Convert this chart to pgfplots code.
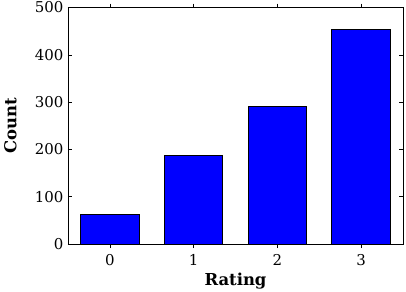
\documentclass[border=0pt]{standalone}
\usepackage{pgfplots}
\pgfplotsset{compat=1.18}
\usepackage{fontspec}
\setmainfont{DejaVu Serif}
\begin{document}
\begin{tikzpicture}
\path[use as bounding box] (-68bp,-48bp) rectangle (338bp,244bp);
\begin{axis}[
  at={(0,0)}, anchor=south west,
  scale only axis, width=335bp, height=236.5bp,
  xmin=-0.5, xmax=3.5, ymin=0, ymax=500,
  xtick={0,1,2,3}, ytick={0,100,200,300,400,500},
  tick align=inside, major tick length=4bp,
  tick style={black, line width=0.5pt},
  axis line style={black, line width=1pt},
  /pgf/number format/assume math mode=true,
  ticklabel style={font=\fontsize{15}{17}\selectfont},
  xlabel={Rating}, ylabel={Count},
  every axis x label/.style={at={(axis description cs:0.5,-0.175)}, anchor=base, font=\bfseries\fontsize{16.5}{18}\selectfont},
  every axis y label/.style={at={(axis description cs:-0.172,0.5)}, anchor=center, rotate=90, font=\bfseries\fontsize{16.5}{18}\selectfont},
  yticklabel style={xshift=-1bp},
  xticklabel style={yshift=-3bp},
  ybar, bar width=58.5bp,
]
\addplot[fill={rgb,1:red,0;green,0;blue,1}, draw=black, line width=1pt] coordinates {(0,63) (1,188) (2,290) (3,453)};
\end{axis}
\end{tikzpicture}
\end{document}
